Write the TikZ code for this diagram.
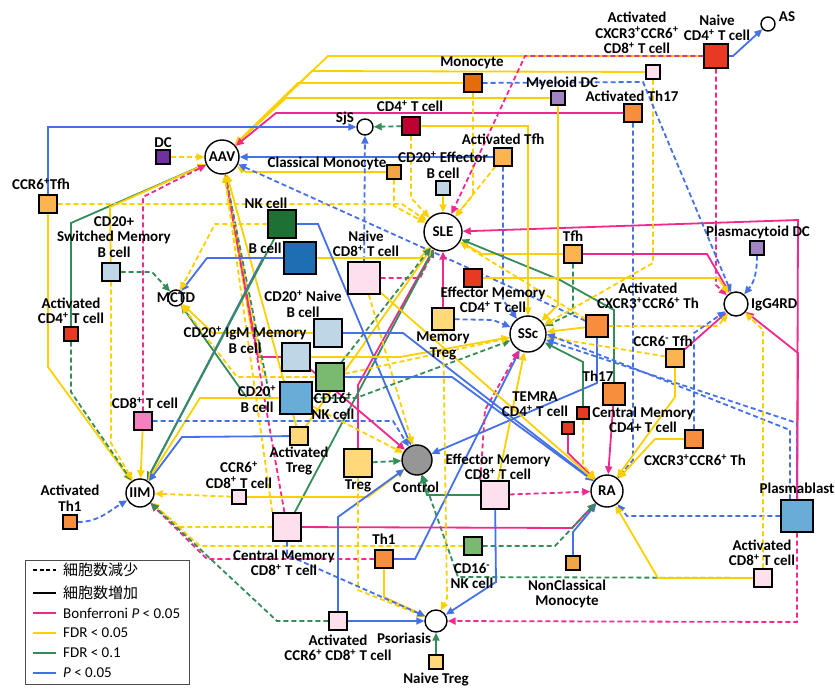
\documentclass[tikz,border=0pt]{standalone}
\usepackage{fontspec}
\setmainfont{Carlito}
\newfontfamily\jpfont{Noto Sans CJK JP}
\usetikzlibrary{arrows.meta}
\pgfdeclarelayer{bg}
\pgfsetlayers{bg,main}
\definecolor{pinkc}{RGB}{243,40,140}
\definecolor{yelc}{RGB}{255,208,0}
\definecolor{grnc}{RGB}{52,140,88}
\definecolor{bluc}{RGB}{68,112,232}
\definecolor{cPurple}{RGB}{112,48,160}
\definecolor{cLav}{RGB}{162,132,196}
\definecolor{cLOr}{RGB}{251,180,80}
\definecolor{cDOr}{RGB}{228,108,10}
\definecolor{cOr}{RGB}{247,142,62}
\definecolor{cMOr}{RGB}{240,165,70}
\definecolor{cRed}{RGB}{232,58,34}
\definecolor{cCrim}{RGB}{192,0,48}
\definecolor{cPk}{RGB}{252,224,238}
\definecolor{cHPk}{RGB}{244,128,192}
\definecolor{cLB}{RGB}{190,214,230}
\definecolor{cMB}{RGB}{106,172,216}
\definecolor{cDB}{RGB}{30,110,180}
\definecolor{cDG}{RGB}{30,112,52}
\definecolor{cLG}{RGB}{122,186,112}
\definecolor{cTreg}{RGB}{255,216,122}
\definecolor{cCtrl}{RGB}{150,150,150}
\newcommand\labfont{\fontsize{15}{15.5}\selectfont\bfseries}
\newcommand\legfont{\fontsize{15}{16}\selectfont}
\newcommand\cellp{\textsuperscript{+}}
\newcommand\cellm{\textsuperscript{-}}
\tikzset{
  cellbox/.style={draw=black,line width=1.4pt,minimum size=#1,inner sep=0pt},
  dis/.style={circle,draw=black,line width=1.4pt,fill=white,minimum size=#1,inner sep=0pt,font=\labfont},
  lab/.style={font=\labfont,align=center,inner sep=0pt},
  lk/.style={line width=1.8pt,-{Triangle[length=8pt,width=7pt]}},
  Pk/.style={lk,draw=pinkc},
  Yk/.style={lk,draw=yelc},
  Gk/.style={lk,draw=grnc},
  Bk/.style={lk,draw=bluc},
  dsh/.style={dash pattern=on 5pt off 3pt},
  legln/.style={line width=1.8pt},
}
\begin{document}
\begin{tikzpicture}[x=1pt,y=-1pt]
\useasboundingbox (0,0) rectangle (835,688);
% ---------- disease nodes ----------
\node[dis=34pt] (AAV) at (222,157) {AAV};
\node[dis=16pt] (SjS) at (365,127) {};
\node[lab] (SjSl) at (345,119) {SjS};
\node[dis=38pt] (SLE) at (443,232) {SLE};
\node[dis=16pt] (MCTD) at (176,298) {};
\node[lab] (MCTDl) at (176,298) {MCTD};
\node[dis=24pt] (IgG) at (736,304) {};
\node[lab,anchor=west] (IgGl) at (751,305) {IgG4RD};
\node[dis=36pt] (SSc) at (528,334) {SSc};
\node[dis=30pt,fill=cCtrl] (Control) at (417,460) {};
\node[lab] (Controll) at (416,487) {Control};
\node[dis=32pt] (RA) at (607,491) {RA};
\node[dis=28pt] (IIM) at (140,493) {IIM};
\node[dis=22pt] (Pso) at (436,621) {};
\node[lab] (Psol) at (404,638) {Psoriasis};
\node[dis=14pt] (AS) at (768,24) {};
\node[lab] (ASl) at (787,17) {AS};
% ---------- cell nodes ----------
\node[cellbox=14pt,fill=cPurple] (dc) at (163,157) {};
\node[lab] (dcl) at (163,143) {DC};
\node[cellbox=18pt,fill=cLOr] (ccr6tfh) at (48,204) {};
\node[lab] (ccr6tfhl) at (41,184) {CCR6\cellp Tfh};
\node[cellbox=18pt,fill=cDOr] (mono) at (473,83) {};
\node[lab] (monol) at (472,63) {Monocyte};
\node[cellbox=14pt,fill=cLav] (mdc) at (558,98) {};
\node[lab] (mdcl) at (562,83) {Myeloid DC};
\node[cellbox=14pt,fill=cPk] (actcd8x) at (653,72) {};
\node[lab] (actcd8xl) at (637,33) {Activated\\CXCR3\cellp CCR6\cellp\\CD8\cellp\ T cell};
\node[cellbox=24pt,fill=cRed] (naivecd4) at (716,56) {};
\node[lab] (naivecd4l) at (717,28) {Naive\\CD4\cellp\ T cell};
\node[cellbox=18pt,fill=cOr] (actth17) at (633,113) {};
\node[lab] (actth17l) at (632,96) {Activated Th17};
\node[cellbox=18pt,fill=cCrim] (cd4) at (411,126) {};
\node[lab] (cd4l) at (410,106) {CD4\cellp\ T cell};
\node[cellbox=18pt,fill=cLOr] (acttfh) at (503,157) {};
\node[lab] (acttfhl) at (503,139) {Activated Tfh};
\node[cellbox=14pt,fill=cMOr] (cmono) at (394,172) {};
\node[lab] (cmonol) at (327,163) {Classical Monocyte};
\node[cellbox=14pt,fill=cLB] (cd20eff) at (443,188) {};
\node[lab] (cd20effl) at (443,165) {CD20\cellp\ Effector\\B cell};
\node[cellbox=28pt,fill=cDG] (nk) at (282,224) {};
\node[lab] (nkl) at (266,203) {NK cell};
\node[cellbox=32pt,fill=cDB] (bcell) at (300,258) {};
\node[lab] (bcelll) at (265,248) {B cell};
\node[cellbox=32pt,fill=cPk] (naivecd8) at (364,278) {};
\node[lab] (naivecd8l) at (366,244) {Naive\\CD8\cellp\ T cell};
\node[cellbox=28pt,fill=cLB] (cd20naive) at (328,333) {};
\node[lab] (cd20naivel) at (303,304) {CD20\cellp\ Naive\\B cell};
\node[cellbox=28pt,fill=cLB] (cd20igm) at (296,357) {};
\node[lab] (cd20igml) at (245,340) {CD20\cellp\ IgM Memory\\B cell};
\node[cellbox=28pt,fill=cLG] (cd16p) at (330,377) {};
\node[lab] (cd16pl) at (333,406) {CD16\cellp\\NK cell};
\node[cellbox=32pt,fill=cMB] (cd20b) at (296,398) {};
\node[lab] (cd20bl) at (257,399) {CD20\cellp\\B cell};
\node[cellbox=18pt,fill=cTreg] (acttreg) at (299,436) {};
\node[lab] (acttregl) at (299,461) {Activated\\Treg};
\node[cellbox=28pt,fill=cTreg] (treg) at (358,463) {};
\node[lab] (tregl) at (358,486) {Treg};
\node[cellbox=22pt,fill=cTreg] (memtreg) at (443,319) {};
\node[lab] (memtregl) at (443,346) {Memory\\Treg};
\node[cellbox=18pt,fill=cRed] (emcd4) at (473,278) {};
\node[lab] (emcd4l) at (493,300) {Effector Memory\\CD4\cellp\ T cell};
\node[cellbox=18pt,fill=cLOr] (tfh) at (573,254) {};
\node[lab] (tfhl) at (573,236) {Tfh};
\node[cellbox=14pt,fill=cLav] (pdc) at (757,248) {};
\node[lab] (pdcl) at (758,232) {Plasmacytoid DC};
\node[cellbox=22pt,fill=cOr] (actth) at (597,326) {};
\node[lab] (actthl) at (648,296) {Activated\\CXCR3\cellp CCR6\cellp\ Th};
\node[cellbox=18pt,fill=cLOr] (ccr6mtfh) at (675,358) {};
\node[lab] (ccr6mtfhl) at (663,341) {CCR6\cellm\ Tfh};
\node[cellbox=22pt,fill=cOr] (th17) at (614,394) {};
\node[lab] (th17l) at (598,376) {Th17};
\node[cellbox=12pt,fill=cRed] (cmcd4) at (583,413) {};
\node[lab] (cmcd4l) at (643,420) {Central Memory\\CD4+ T cell};
\node[cellbox=12pt,fill=cRed] (temra) at (568,428) {};
\node[lab] (temral) at (535,404) {TEMRA\\CD4\cellp\ T cell};
\node[cellbox=18pt,fill=cOr] (cxth) at (694,439) {};
\node[lab] (cxthl) at (695,460) {CXCR3\cellp CCR6\cellp\ Th};
\node[cellbox=28pt,fill=cPk] (emcd8) at (495,495) {};
\node[lab] (emcd8l) at (498,467) {Effector Memory\\CD8\cellp\ T cell};
\node[cellbox=32pt,fill=cMB] (pb) at (797,516) {};
\node[lab] (pbl) at (797,488) {Plasmablast};
\node[cellbox=18pt,fill=cPk] (actcd8) at (763,578) {};
\node[lab] (actcd8l) at (762,553) {Activated\\CD8\cellp\ T cell};
\node[cellbox=14pt,fill=cMOr] (ncmono) at (573,563) {};
\node[lab] (ncmonol) at (567,594) {NonClassical\\Monocyte};
\node[cellbox=18pt,fill=cLG] (cd16m) at (473,546) {};
\node[lab] (cd16ml) at (472,576) {CD16\cellm\\NK cell};
\node[cellbox=18pt,fill=cOr] (th1) at (384,559) {};
\node[lab] (th1l) at (384,539) {Th1};
\node[cellbox=28pt,fill=cPk] (cmcd8) at (287,527) {};
\node[lab] (cmcd8l) at (284,563) {Central Memory\\CD8\cellp\ T cell};
\node[cellbox=18pt,fill=cPk] (actccr6cd8) at (338,621) {};
\node[lab] (actccr6cd8l) at (338,648) {Activated\\CCR6\cellp\ CD8\cellp\ T cell};
\node[cellbox=14pt,fill=cTreg] (naivetreg) at (436,662) {};
\node[lab] (naivetregl) at (436,679) {Naive Treg};
\node[cellbox=14pt,fill=cPk] (ccr6cd8) at (239,497) {};
\node[lab] (ccr6cd8l) at (239,475) {CCR6\cellp\\CD8\cellp\ T cell};
\node[cellbox=14pt,fill=cOr] (actth1) at (70,522) {};
\node[lab] (actth1l) at (70,498) {Activated\\Th1};
\node[cellbox=18pt,fill=cHPk] (cd8) at (143,421) {};
\node[lab] (cd8l) at (145,403) {CD8\cellp\ T cell};
\node[cellbox=14pt,fill=cRed] (actcd4) at (71,334) {};
\node[lab] (actcd4l) at (71,311) {Activated\\CD4\cellp\ T cell};
\node[cellbox=18pt,fill=cLB] (switched) at (111,272) {};
\node[lab] (switchedl) at (114,237) {CD20+\\Switched Memory\\B cell};
% ---------- legend ----------
\node[draw=black!70,line width=1pt,minimum width=164pt,minimum height=124pt,anchor=north west,inner sep=0pt] (legbox) at (25,560) {};
\coordinate (la1) at (33,570); \coordinate (lb1) at (56,570);
\coordinate (la2) at (33,593); \coordinate (lb2) at (56,593);
\coordinate (la3) at (33,613); \coordinate (lb3) at (56,613);
\coordinate (la4) at (33,633); \coordinate (lb4) at (56,633);
\coordinate (la5) at (33,653); \coordinate (lb5) at (56,653);
\coordinate (la6) at (33,673); \coordinate (lb6) at (56,673);
\draw[legln,black,dash pattern=on 4pt off 2.5pt] (la1) -- (lb1);
\draw[legln,black] (la2) -- (lb2);
\draw[legln,pinkc] (la3) -- (lb3);
\draw[legln,yelc] (la4) -- (lb4);
\draw[legln,grnc] (la5) -- (lb5);
\draw[legln,bluc] (la6) -- (lb6);
\node[anchor=west,font=\legfont,inner sep=0pt] (lt1) at (63,570) {\jpfont 細胞数減少};
\node[anchor=west,font=\legfont,inner sep=0pt] (lt2) at (63,593) {\jpfont 細胞数増加};
\node[anchor=west,font=\legfont,inner sep=0pt] (lt3) at (63,613) {Bonferroni \textit{P} < 0.05};
\node[anchor=west,font=\legfont,inner sep=0pt] (lt4) at (63,633) {FDR < 0.05};
\node[anchor=west,font=\legfont,inner sep=0pt] (lt5) at (63,653) {FDR < 0.1};
\node[anchor=west,font=\legfont,inner sep=0pt] (lt6) at (63,673) {\textit{P} < 0.05};
% ---------- connectors ----------
\begin{pgfonlayer}{bg}
% AAV
\draw[Yk,dsh] (dc) -- (AAV);
\draw[Yk] (naivecd4) -- (328,56) -- (AAV);
\draw[Yk] (actcd8x) -- (312,71) -- (AAV);
\draw[Yk] (mono) -- (298,83) -- (AAV);
\draw[Yk] (mdc) -- (286,98) -- (AAV);
\draw[Pk] (actth17) -- (276,113) -- (AAV);
\draw[Bk] (acttfh) -- (AAV);
\draw[Yk] (cmono) -- (246,172) -- (AAV);
\draw[Bk,dsh] (actth) -- (AAV);
\draw[Gk] (actcd4) -- (71,223) -- (AAV);
\draw[Yk] (switched) -- (110,207) -- (AAV);
\draw[Pk,dsh] (cd8) -- (143,197) -- (AAV);
\draw[Yk] (cd20naive) -- (252,333) -- (AAV);
\draw[Pk] (cd20igm) -- (258,357) -- (AAV);
\draw[Yk,dsh] (cd16p) -- (264,377) -- (AAV);
\draw[Gk,dsh] (cd20b) -- (270,398) -- (AAV);
\draw[Pk,dsh] (cmcd8) -- (AAV);
\draw[Yk,dsh] (cmcd8.north west) -- (AAV);
\draw[Yk] (acttreg) -- (AAV);
% SjS
\draw[Bk] (ccr6tfh) -- (48,127) -- (SjS);
\draw[Gk,dsh] (cd4) -- (SjS);
\draw[Bk,dsh] (naivecd8) -- (SjS);
% SLE
\draw[Yk,dsh] (ccr6tfh) -- (402,204) -- (SLE);
\draw[Yk,dsh] (cd4) -- (411,198) -- (SLE);
\draw[Yk,dsh] (cmono) -- (394,206) -- (SLE);
\draw[Yk] (cd20eff) -- (SLE);
\draw[Yk,dsh] (mono) -- (473,195) -- (SLE);
\draw[Yk,dsh] (acttfh) -- (SLE);
\draw[Pk,dsh] (naivecd4) -- (525,56) -- (SLE);
\draw[Pk] (pb) -- (798,220) -- (SLE);
\draw[Yk] (tfh) -- (482,254) -- (SLE);
\draw[Pk] (memtreg) -- (SLE);
\draw[Yk] (bcell) -- (420,258) -- (SLE);
\draw[Pk,dsh] (naivecd8) -- (420,278) -- (SLE);
\draw[Pk] (treg) -- (358,385) -- (SLE);
\draw[Gk] (cmcd8) -- (SLE);
\draw[Gk] (th17) -- (614,310) -- (560,280) -- (SLE);
\draw[Yk,dsh] (actth) -- (SLE);
\draw[Yk] (acttreg) -- (SLE);
\draw[Gk,dsh] (cd16p) -- (SLE);
% MCTD
\draw[Gk,dsh] (switched) -- (152,272) -- (MCTD);
\draw[Bk] (bcell) -- (207,258) -- (MCTD);
\draw[Yk,dsh] (nk) -- (215,224) -- (MCTD);
\draw[Yk] (cd20naive) -- (213,333) -- (MCTD);
\draw[Gk] (cd20b) -- (247,398) -- (MCTD);
\draw[Yk,dsh] (cd16p) -- (237,377) -- (MCTD);
% IIM
\draw[Yk] (ccr6tfh) -- (48,367) -- (IIM);
\draw[Gk,dsh] (actcd4) -- (71,392) -- (IIM);
\draw[Yk,dsh] (switched) -- (111,443) -- (IIM);
\draw[Yk] (cd8) -- (IIM);
\draw[Bk,dsh] (actth1) to[out=0,in=210] (IIM);
\draw[Yk,dsh] (ccr6cd8) -- (IIM);
\draw[Yk,dsh] (cmcd8) -- (180,527) -- (IIM);
\draw[Yk,dsh] (cd16m) -- (200,546) -- (IIM);
\draw[Pk,dsh] (th1) -- (207,559) -- (IIM);
\draw[Gk,dsh] (actccr6cd8) -- (277,621) -- (IIM);
\draw[Bk] (bcell) -- (263,258) -- (IIM);
\draw[Gk] (nk) -- (IIM);
\draw[Yk] (cd20b) -- (200,398) -- (IIM);
\draw[Bk] (acttreg) -- (182,437) -- (IIM);
% Control
\draw[Bk,dsh] (cd8) -- (393,421) -- (Control);
\draw[Yk] (ccr6cd8) -- (368,497) -- (Control);
\draw[Gk,dsh] (treg) -- (Control);
\draw[Gk] (emcd8) -- (427,495) -- (Control);
\draw[Bk] (nk) -- (318,224) -- (Control);
\draw[Bk] (actth) -- (597,383) -- (Control);
\draw[Bk] (actccr6cd8) -- (338,517) -- (Control);
\draw[Gk,dsh] (actcd8) -- (458,577) -- (Control);
\draw[Yk,dsh] (naivecd8) -- (Control);
\draw[Yk,dsh] (cd20b) -- (Control);
\draw[Pk] (cd20igm) -- (Control);
% SSc
\draw[Bk,dsh] (memtreg) -- (493,320) -- (SSc);
\draw[Gk,dsh] (tfh) -- (573,313) -- (SSc);
\draw[Bk,dsh] (acttfh) -- (503,300) -- (SSc);
\draw[Yk] (mdc) -- (558,305) -- (SSc);
\draw[Yk] (cd4) -- (528,126) -- (SSc);
\draw[Yk,dsh] (actcd8x) -- (653,263) -- (SSc);
\draw[Yk] (actth) -- (SSc);
\draw[Gk] (cmcd4) -- (583,362) -- (SSc);
\draw[Yk,dsh] (ccr6mtfh) -- (SSc);
\draw[Bk,dsh] (pb) -- (797,423) -- (SSc);
\draw[Bk,dsh] ([xshift=-7pt]pb.north) -- (790,430) -- (SSc.east);
\draw[Bk] (th1) -- (415,559) -- (SSc);
\draw[Yk] (emcd8) -- (SSc);
\draw[Pk,dsh] (emcd8.north west) -- (485,410) -- (SSc);
\draw[Gk,dsh] (cd20b) -- (356,398) -- (SSc);
\draw[Yk,dsh] (cd16p) -- (SSc);
\draw[Yk] (cd20igm) -- (400,357) -- (SSc);
% RA
\draw[Bk,dsh] (pb) -- (627,516) -- (RA);
\draw[Yk] (actcd8) -- (658,578) -- (RA);
\draw[Bk] (ncmono) -- (573,532) -- (RA);
\draw[Pk,dsh] (emcd8) -- (RA);
\draw[Pk] (cmcd8) -- (572,528) -- (RA);
\draw[Pk] (temra) -- (568,453) -- (RA);
\draw[Pk] (th17) -- (RA);
\draw[Gk,dsh] (cd16m) -- (555,546) -- (RA);
\draw[Bk,dsh] (actth17) -- (633,460) -- (RA);
\draw[Yk] (ccr6mtfh) -- (675,397) -- (RA);
\draw[Yk] (cxth) -- (655,439) -- (RA);
\draw[Yk,dsh] (cmcd4) -- (583,465) -- (RA);
\draw[Bk] (cd20naive) -- (403,333) -- (RA);
\draw[Bk] (cd16p) -- (452,377) -- (RA);
\draw[Yk] (naivecd8) -- (RA);
% IgG4RD
\draw[Pk,dsh] (naivecd4) -- (716,285) -- (IgG);
\draw[Pk] (pb) -- (798,353) -- (IgG);
\draw[Pk] (tfh) -- (707,254) -- (IgG);
\draw[Pk] (ccr6mtfh) -- (IgG);
\draw[Bk,dsh] (mono) -- (643,82) -- (IgG);
\draw[Bk,dsh] (pdc) to[out=-90,in=50] (IgG);
\draw[Yk,dsh] (actth) -- (718,326) -- (IgG);
\draw[Bk,dsh] (cxth) -- (694,333) -- (IgG);
\draw[Yk] (emcd4) -- (718,278) -- (IgG);
\draw[Yk,dsh] (actcd8) -- (763,330) -- (IgG);
% Psoriasis
\draw[Gk] (naivetreg) -- (Pso);
\draw[Bk] (actccr6cd8) -- (Pso);
\draw[Pk,dsh] (pb) -- (797,622) -- (Pso);
\draw[Yk] (th1) -- (384,597) -- (Pso);
\draw[Yk,dsh] (treg) -- (358,590) -- (Pso);
\draw[Bk,dsh] (cmcd8) -- (287,555) -- (Pso);
\draw[Bk] (emcd8) -- (496,582) -- (Pso);
\draw[Yk,dsh] (memtreg) -- (447,598) -- (Pso);
% AS
\draw[Bk] (naivecd4) -- (733,56) -- (AS);
\end{pgfonlayer}
\end{tikzpicture}
\end{document}
